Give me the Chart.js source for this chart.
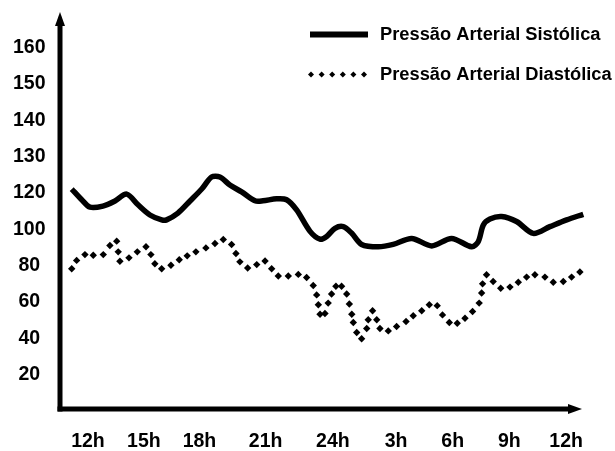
<!DOCTYPE html>
<html>
<head>
<meta charset="utf-8">
<script src="https://cdn.jsdelivr.net/npm/chart.js@4"></script>
<style>
  html, body { margin: 0; padding: 0; background: #fff; }
  #wrap { width: 615px; height: 451px; position: relative; }
</style>
</head>
<body>
<div id="wrap"><canvas id="bpChart"></canvas></div>
<script>
// hours counted from the first 12h mark (x axis labels are not evenly spaced in the original)
const xTickPos = [0, 2.96, 5.9, 9.4, 12.96, 16.3, 19.3, 22.3, 25.3];
const xTickLabels = ['12h', '15h', '18h', '21h', '24h', '3h', '6h', '9h', '12h'];

// the y axis labels skip 110, each label gets one equal step
const yTickLabels = [20, 40, 60, 80, 100, 120, 130, 140, 150, 160];

const sysHours = [-0.86, -0.33, 0.11, 0.79, 1.43, 2.05, 2.65, 3.28, 3.9, 4.16, 4.76, 5.4, 6.02, 6.54, 6.98,
  7.51, 8.13, 8.84, 9.26, 9.98, 10.51, 11.04, 11.75, 12.28, 12.63, 13.07, 13.51, 13.96, 14.48, 15.36,
  16.15, 17.13, 18.19, 19.24, 20.3, 20.65, 20.92, 21.27, 21.89, 22.68, 23.56, 24.44, 25.33, 26.21];
const sysValues = [121.1, 116.3, 112.2, 112.8, 115.6, 119.4, 113.5, 107.9, 105.2, 105.2, 108.9, 115.6, 121.1, 124.4, 124.4,
  122.2, 120.3, 115.7, 115.7, 116.8, 116.3, 110.7, 98.9, 94.6, 96.1, 100.6, 101.5, 97.8, 91.7, 90.4,
  91.7, 95.0, 90.9, 95.0, 90.4, 93.2, 102.4, 105.7, 107.1, 104.3, 97.8, 101.5, 105.2, 108.3];

const diaHours = [-0.86, -0.6, -0.16, 0.28, 0.81, 1.16, 1.52, 1.6, 1.69, 2.17, 2.61, 3.07, 3.33, 3.54, 3.9,
  4.39, 4.83, 5.25, 5.71, 6.24, 6.72, 7.16, 7.6, 7.83, 8.04, 8.45, 8.93, 9.37, 9.72, 10.07, 10.6, 11.13,
  11.57, 11.92, 12.1, 12.19, 12.28, 12.54, 12.71, 12.89, 13.12, 13.42, 13.69, 13.83, 13.96, 14.04, 14.22,
  14.48, 14.75, 14.83, 15.06, 15.28, 15.45, 15.89, 16.33, 16.83, 17.21, 17.66, 18.06, 18.48, 18.76, 19.12,
  19.54, 19.95, 20.35, 20.7, 20.83, 20.88, 21.09, 21.44, 21.84, 22.33, 22.77, 23.21, 23.65, 24.18, 24.62,
  25.15, 25.59, 26.03];
const diaValues = [78.3, 82.9, 86.1, 85.7, 86.1, 91.1, 93.5, 87.6, 82.4, 84.3, 87.6, 90.4, 86.1, 81.1, 78.3,
  80.2, 83.3, 85.4, 87.6, 89.8, 92.2, 94.4, 91.7, 86.7, 82.1, 78.7, 80.6, 82.6, 78.3, 74.3, 74.3, 75.2,
  73.5, 69.1, 63.9, 58.5, 53.3, 53.7, 59.4, 64.4, 68.7, 68.7, 64.4, 58.9, 53.3, 48.7, 43.2,
  39.8, 45.4, 50.2, 55.2, 50.2, 45.4, 44.1, 46.5, 49.3, 52.4, 55.2, 58.5, 58.0, 52.9, 48.7,
  48.3, 51.1, 54.8, 59.4, 65.0, 70.0, 75.0, 71.3, 67.6, 68.2, 70.9, 73.7, 75.0, 73.7, 70.9,
  71.3, 73.7, 76.5];

const seriesNames = ['Pressão Arterial Sistólica', 'Pressão Arterial Diastólica'];

// value -> step on the y axis (0 at the origin, one step per label)
function toStep(v) {
  const marks = [0].concat(yTickLabels);
  for (let i = 1; i < marks.length; i++) {
    if (v <= marks[i]) return (i - 1) + (v - marks[i - 1]) / (marks[i] - marks[i - 1]);
  }
  return marks.length - 1;
}

const sysPoints = sysHours.map((h, i) => ({ x: h, y: toStep(sysValues[i]) }));
const diaPoints = diaHours.map((h, i) => ({ x: h, y: toStep(diaValues[i]) }));

const FAMILY = '"Liberation Sans", Arial, sans-serif';

// axes with arrow heads + legend in the top right
const decorations = {
  id: 'decorations',
  afterDraw(chart) {
    const ctx = chart.ctx;
    const area = chart.chartArea;
    const y0 = area.bottom - 2;
    const x0 = area.left;
    ctx.save();
    ctx.fillStyle = '#000';
    ctx.strokeStyle = '#000';
    ctx.lineWidth = 5;
    // y axis
    ctx.beginPath();
    ctx.moveTo(x0, y0 + 2.5);
    ctx.lineTo(x0, 24);
    ctx.stroke();
    ctx.beginPath();
    ctx.moveTo(x0 - 5, 26);
    ctx.lineTo(x0, 12);
    ctx.lineTo(x0 + 5, 26);
    ctx.closePath();
    ctx.fill();
    // x axis
    ctx.beginPath();
    ctx.moveTo(x0 - 2.5, y0);
    ctx.lineTo(570, y0);
    ctx.stroke();
    ctx.beginPath();
    ctx.moveTo(568, y0 - 5);
    ctx.lineTo(582, y0);
    ctx.lineTo(568, y0 + 5);
    ctx.closePath();
    ctx.fill();

    // legend
    ctx.lineWidth = 6;
    ctx.beginPath();
    ctx.moveTo(310, 34.5);
    ctx.lineTo(368, 34.5);
    ctx.stroke();
    for (let i = 0; i < 6; i++) {
      const cx = 311 + i * 10.6;
      ctx.beginPath();
      ctx.moveTo(cx, 71.5);
      ctx.lineTo(cx + 3, 74.5);
      ctx.lineTo(cx, 77.5);
      ctx.lineTo(cx - 3, 74.5);
      ctx.closePath();
      ctx.fill();
    }
    ctx.font = 'bold 18.3px ' + FAMILY;
    ctx.textBaseline = 'middle';
    ctx.textAlign = 'left';
    ctx.fillText(seriesNames[0], 380, 35);
    ctx.fillText(seriesNames[1], 380, 75);
    ctx.restore();
  }
};

const ctx = document.getElementById('bpChart').getContext('2d');
const chart = new Chart(ctx, {
  type: 'line',
  data: {
    datasets: [
      {
        label: seriesNames[0],
        data: sysPoints,
        borderColor: '#000',
        borderWidth: 5.5,
        pointRadius: 0,
        tension: 0.3,
        fill: false
      },
      {
        label: seriesNames[1],
        data: diaPoints,
        showLine: false,
        backgroundColor: '#000',
        borderColor: '#000',
        pointStyle: 'rectRot',
        pointRadius: 3.7,
        pointBorderWidth: 0
      }
    ]
  },
  options: {
    responsive: true,
    maintainAspectRatio: false,
    animation: false,
    layout: { autoPadding: false, padding: { top: 15, right: 30, bottom: 0, left: 0 } },
    plugins: {
      legend: { display: false },
      tooltip: { enabled: false }
    },
    scales: {
      x: {
        type: 'linear',
        min: -1.48,
        max: 26.3,
        grid: { display: false, drawTicks: false },
        border: { display: false },
        afterBuildTicks: axis => { axis.ticks = xTickPos.map(v => ({ value: v })); },
        afterFit: axis => { axis.height = 40; axis.paddingLeft = 0; axis.paddingRight = 0; },
        ticks: {
          padding: 19,
          color: '#000',
          font: { family: FAMILY, size: 19.5, weight: 'bold' },
          maxRotation: 0,
          autoSkip: false,
          callback: (v, i) => xTickLabels[i]
        }
      },
      y: {
        type: 'linear',
        min: 0,
        max: 10.9,
        grid: { display: false, drawTicks: false },
        border: { display: false },
        afterBuildTicks: axis => { axis.ticks = yTickLabels.map((v, i) => ({ value: i + 1 })); },
        afterFit: axis => { axis.width = 60; axis.paddingTop = 0; axis.paddingBottom = 0; },
        ticks: {
          padding: 14.5,
          crossAlign: 'center',
          color: '#000',
          font: { family: FAMILY, size: 19.5, weight: 'bold' },
          autoSkip: false,
          callback: (v, i) => yTickLabels[i]
        }
      }
    }
  },
  plugins: [decorations]
});
</script>
</body>
</html>
